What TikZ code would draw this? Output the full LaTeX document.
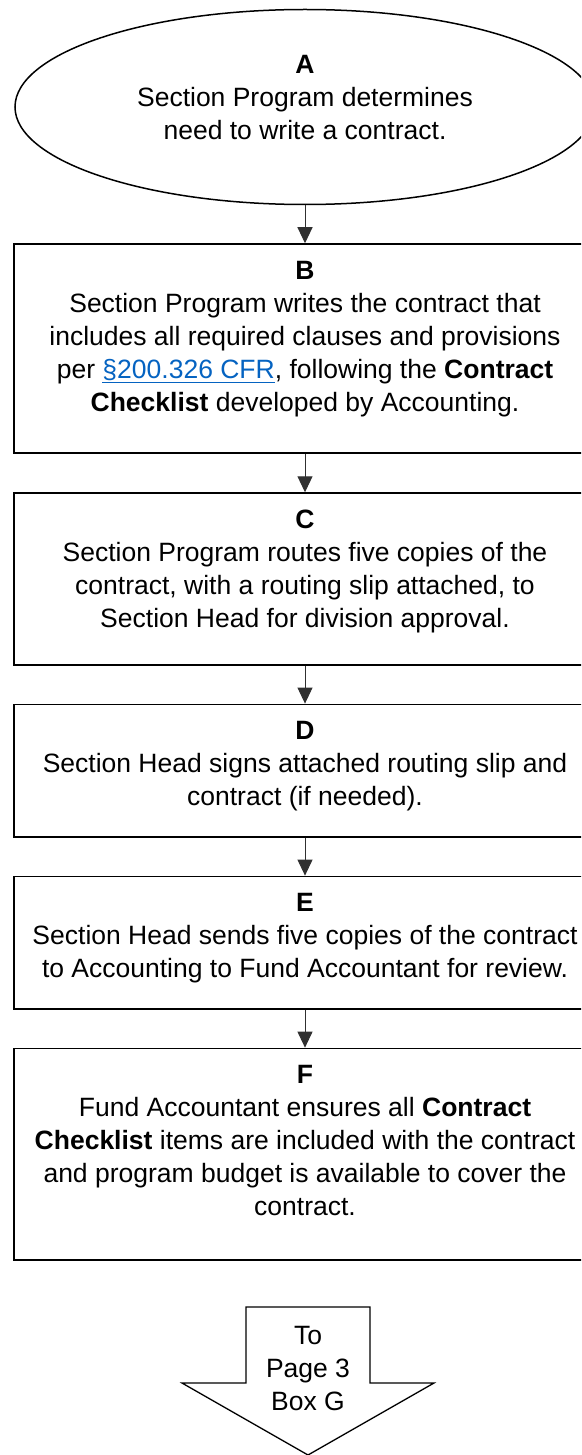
\documentclass[tikz,border=0pt]{standalone}
\usepackage{fontspec}
\setmainfont{Liberation Sans}
\usepackage{xcolor}
\usepackage{tikz}
\usetikzlibrary{arrows.meta,positioning,shapes.geometric}
\definecolor{LinkBlue}{HTML}{0563C1}
\definecolor{Shaft}{HTML}{303030}
\newcommand{\cfrlink}[1]{\textcolor{LinkBlue}{\underline{#1}}}
\newcommand{\padbelow}[1]{\rule[-#1]{0pt}{#1}}
\begin{document}
\begin{tikzpicture}[
  x=1pt,y=1pt,
  node distance=38pt,
  every node/.style={font=\fontsize{26.5}{33}\selectfont},
  startbox/.style={ellipse,draw,line width=1.5pt,minimum width=580pt,minimum height=195pt,align=center,inner sep=0pt},
  stepbox/.style={draw,line width=1.8pt,minimum width=582pt,align=center,inner xsep=4pt,inner ysep=17pt},
  arr/.style={-{Triangle[length=16pt,width=15pt]},line width=1pt,color=Shaft}
]
\useasboundingbox (0,0) rectangle (581,-1455);
\clip (0,0) rectangle (581,-1455);
\node[startbox] (a) at (305,-107) {\textbf{A}\\Section Program determines\\need to write a contract.\padbelow{20pt}};
\node[stepbox,below=of a] (b) {\textbf{B}\\Section Program writes the contract that\\includes all required clauses and provisions\\per \cfrlink{§200.326 CFR}, following the \textbf{Contract}\\\textbf{Checklist} developed by Accounting.\padbelow{25pt}};
\node[stepbox,below=of b] (c) {\textbf{C}\\Section Program routes five copies of the\\contract, with a routing slip attached, to\\Section Head for division approval.\padbelow{20pt}};
\node[stepbox,below=of c] (d) {\textbf{D}\\Section Head signs attached routing slip and\\contract (if needed).\padbelow{14pt}};
\node[stepbox,below=of d] (e) {\textbf{E}\\Section Head sends five copies of the contract\\to Accounting to Fund Accountant for review.\padbelow{14pt}};
\node[stepbox,below=of e] (f) {\textbf{F}\\Fund Accountant ensures all \textbf{Contract}\\\textbf{Checklist} items are included with the contract\\and program budget is available to cover the\\contract.\padbelow{27pt}};
\draw[arr] (a) -- (b);
\draw[arr] (b) -- (c);
\draw[arr] (c) -- (d);
\draw[arr] (d) -- (e);
\draw[arr] (e) -- (f);
% off-page connector
\coordinate (go) at (308,-1307);
\draw[line width=1.3pt,line join=miter] (go) ++(-62,0) -- ++(124,0) -- ++(0,-76) -- ++(64,0) -- ++(-126,-72) -- ++(-126,72) -- ++(64,0) -- cycle;
\node[align=center,inner sep=0pt] (topage) at (308,-1368.5) {To\\Page 3\\Box G};
\end{tikzpicture}
\end{document}
